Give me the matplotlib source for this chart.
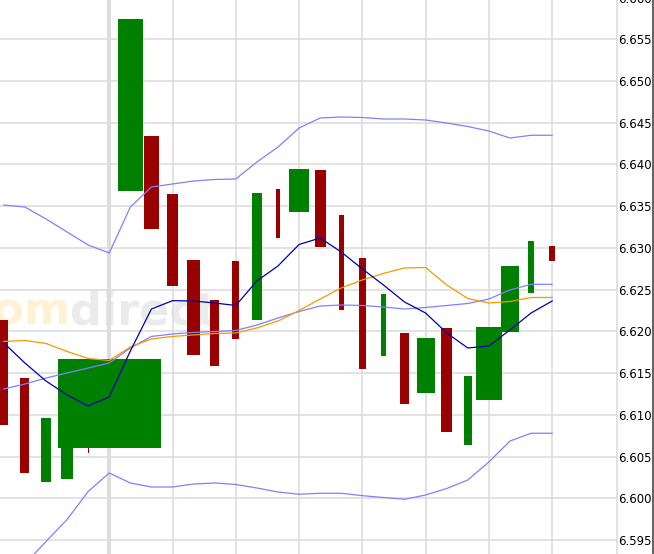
import matplotlib
matplotlib.use("Agg")
import matplotlib.pyplot as plt
from matplotlib.lines import Line2D

# slots of 20 minutes, slot 0 = day separator
slots = list(range(-5, 22))

# candle bodies (open, close)
opens = [6.62136, 6.61445, 6.60195, 6.60231, 6.60800, 6.60606, 6.63682, 6.64341, 6.63646,
         6.62855, 6.62376, 6.62843, 6.62136, 6.63706, 6.63431, 6.63934, 6.63395, 6.62879,
         6.61705, 6.61981, 6.61262, 6.62040, 6.60638, 6.61178, 6.61992, 6.62460, 6.63023]
closes = [6.60878, 6.60306, 6.60962, 6.61300, 6.60546, 6.61669, 6.65743, 6.63227, 6.62547,
          6.61717, 6.61585, 6.61909, 6.63658, 6.63119, 6.63946, 6.63011, 6.62256, 6.61549,
          6.62448, 6.61130, 6.61921, 6.60794, 6.61465, 6.62052, 6.62783, 6.63083, 6.62843]
# body widths (in slot units)
widths = [0.38, 0.43, 0.43, 0.57, 0.05, 4.88, 1.18, 0.72, 0.49, 0.62, 0.43, 0.33, 0.47, 0.19,
          0.95, 0.52, 0.24, 0.33, 0.24, 0.47, 0.85, 0.52, 0.38, 1.23, 0.85, 0.28, 0.28]

upper_band = [6.63514, 6.63490, 6.63347, 6.63191, 6.63035, 6.62939, 6.63490, 6.63730, 6.63766,
              6.63802, 6.63820, 6.63826, 6.64030, 6.64209, 6.64437, 6.64557, 6.64569, 6.64563,
              6.64545, 6.64545, 6.64533, 6.64497, 6.64455, 6.64401, 6.64317, 6.64350, 6.64350]
middle_band = [6.61310, 6.61369, 6.61441, 6.61501, 6.61561, 6.61621, 6.61801, 6.61939, 6.61969,
               6.61987, 6.61999, 6.62011, 6.62076, 6.62160, 6.62238, 6.62304, 6.62316, 6.62310,
               6.62292, 6.62268, 6.62286, 6.62310, 6.62334, 6.62388, 6.62496, 6.62564, 6.62564]
lower_band = [6.58949, 6.59213, 6.59482, 6.59745, 6.60081, 6.60303, 6.60183, 6.60135, 6.60135,
              6.60171, 6.60183, 6.60165, 6.60123, 6.60075, 6.60048, 6.60060, 6.60060, 6.60031,
              6.60009, 6.59988, 6.60039, 6.60117, 6.60219, 6.60435, 6.60686, 6.60779, 6.60779]
ma_fast = [6.61861, 6.61621, 6.61405, 6.61238, 6.61106, 6.61214, 6.61765, 6.62268, 6.62368,
           6.62364, 6.62340, 6.62310, 6.62604, 6.62784, 6.63041, 6.63119, 6.62951, 6.62748,
           6.62556, 6.62352, 6.62220, 6.61981, 6.61801, 6.61825, 6.62017, 6.62220, 6.62364]
ma_slow = [6.61879, 6.61891, 6.61855, 6.61759, 6.61675, 6.61651, 6.61813, 6.61909, 6.61939,
           6.61957, 6.61975, 6.61981, 6.62041, 6.62124, 6.62250, 6.62388, 6.62520, 6.62616,
           6.62694, 6.62760, 6.62765, 6.62556, 6.62394, 6.62340, 6.62358, 6.62406, 6.62406]

yticks = [6.595 + 0.005 * i for i in range(14)]
ytick_labels = ["%.3f" % t for t in yticks]

fig = plt.figure(figsize=(6.54, 5.54), dpi=100)
ax = fig.add_axes([0, 0, 616.7 / 654, 1])

# watermark
ax.text(0.1135, 0.415, "com", transform=ax.transAxes, ha="right", va="baseline",
        fontsize=32, fontweight="bold", color="#fff2d2", zorder=0.1)
ax.text(0.1135, 0.415, "direct", transform=ax.transAxes, ha="left", va="baseline",
        fontsize=32, fontweight="bold", color="#ebebeb", zorder=0.1)

# grid
ax.set_yticks(yticks)
ax.set_yticklabels(ytick_labels)
ax.yaxis.grid(True, color="#dddddd", lw=1.2)
ax.set_axisbelow(True)
for g in range(0, 22, 3):
    ax.axvline(g, color="#dddddd", lw=3 if g == 0 else 1.2, zorder=0.5)

# bodies
bottoms = [min(o, c) for o, c in zip(opens, closes)]
heights = [abs(c - o) for o, c in zip(opens, closes)]
colors = ["#008000" if c > o else "#990000" for o, c in zip(opens, closes)]
ax.bar(slots, heights, width=widths, bottom=bottoms, color=colors, lw=0, zorder=2)

# indicators
ax.plot(slots, upper_band, color="#8080ff", lw=0.9, zorder=3)
ax.plot(slots, lower_band, color="#8080ff", lw=0.9, zorder=3)
ax.plot(slots, middle_band, color="#8080ff", lw=0.9, zorder=3)
ax.plot(slots, ma_slow, color="#f39a00", lw=0.9, zorder=3)
ax.plot(slots, ma_fast, color="#0000a8", lw=0.9, zorder=3)

ax.set_xlim(-5.18, 24.06)
ax.set_ylim(6.59332, 6.65971)
ax.set_xticks([])
ax.yaxis.tick_right()
ax.tick_params(axis="y", length=0, pad=1, labelsize=8.5, labelcolor="black")
for s in ["left", "top", "bottom"]:
    ax.spines[s].set_visible(False)
ax.spines["right"].set_color("#dddddd")
ax.spines["right"].set_linewidth(1.2)

# top label, half outside the picture as in the original
ax.annotate("6.660", xy=(1, 6.660), xycoords=("axes fraction", "data"),
            xytext=(1, 0), textcoords="offset points", ha="left", va="center_baseline",
            fontsize=8.5, annotation_clip=False)

fig.add_artist(Line2D([652.5 / 654, 652.5 / 654], [0, 1], color="#666666", lw=1.5))

fig.savefig("out.png", dpi=100)
